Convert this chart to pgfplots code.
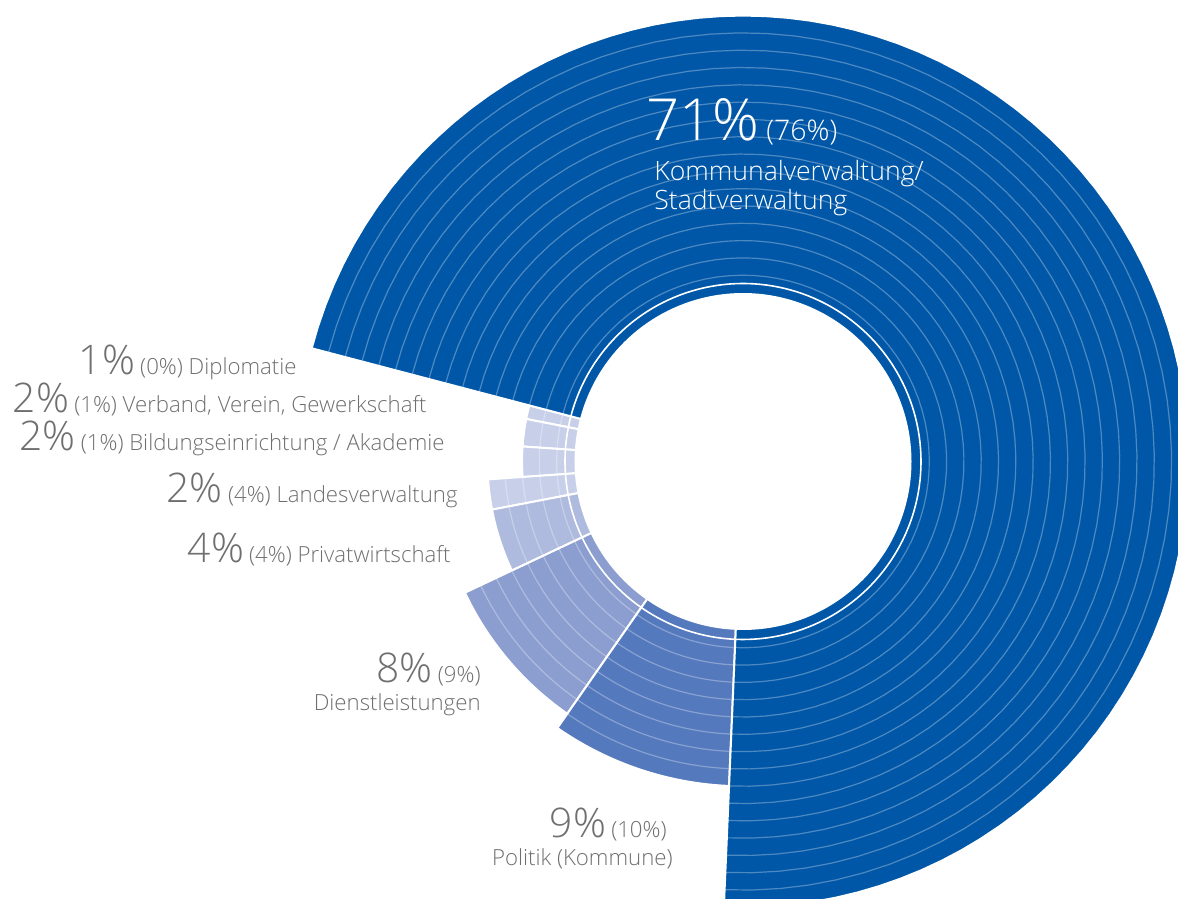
\documentclass[border=0pt]{standalone}
\usepackage{pgfplots}
\usepackage{pgfplotstable}
\pgfplotsset{compat=1.18}
\usepackage{fontspec}
\setmainfont{Open Sans}[UprightFont={* Light}]

\definecolor{kom}{HTML}{0057A7}
\definecolor{pol}{HTML}{5479BD}
\definecolor{die}{HTML}{8C9ED0}
\definecolor{pri}{HTML}{AFBBDE}
\definecolor{lig}{HTML}{C8CFE9}
\definecolor{txt}{HTML}{6F6F6F}

% share in percent, number of rings, colour
% listed counter-clockwise, starting at the upper left edge
\pgfplotstableread{
label              share rings col
Diplomatie         1.0   2     lig
Verband            2.0   2     lig
Bildung            2.2   2     lig
Landesverwaltung   1.9   4     lig
Privatwirtschaft   4.0   4     pri
Dienstleistungen   8.3   7     die
Politik            9.0   8     pol
Kommunalverwaltung 71.6  15    kom
}\segs

\newcommand\bignum[1]{{\fontsize{20.4}{22}\selectfont #1}}
\newcommand\smalltxt[1]{{\fontsize{11.1}{13}\selectfont #1}}

\begin{document}
\begin{tikzpicture}[every node/.append style={inner sep=0pt}]
\begin{axis}[
    x=0.5pt, y=0.5pt,
    xmin=-743, xmax=435, ymin=-437.5, ymax=461.5,
    hide axis, clip=true,
    anchor=south west, at={(0,0)},
]
\gdef\acc{165.3}
\pgfplotsinvokeforeach{0,...,7}{
    \pgfplotstablegetelem{#1}{share}\of\segs \let\segS\pgfplotsretval
    \pgfplotstablegetelem{#1}{rings}\of\segs \let\segN\pgfplotsretval
    \pgfplotstablegetelem{#1}{col}\of\segs \let\segC\pgfplotsretval
    \pgfmathsetmacro\segA{\acc}
    \pgfmathsetmacro\segB{\acc+3.6*\segS}
    \pgfmathsetmacro\segR{186.3+17.31*\segN}
    \edef\doit{\noexpand\addplot[fill=\segC, draw=white, line width=1pt,
        domain=\segA:\segB, samples=90]
        ({\segR*cos(x)},{\segR*sin(x)}) -- (axis cs:0,0) -- cycle;}
    \doit
    \pgfplotsforeachungrouped \j in {1,...,\segN}{
        \pgfmathsetmacro\rj{186.3+17.31*(\j-1)}
        \edef\doit{\noexpand\addplot[white, opacity=0.3, line width=0.6pt,
            domain=\segA:\segB, samples=70] ({\rj*cos(x)},{\rj*sin(x)});}
        \doit
    }
    \xdef\acc{\segB}
}
% white line and hole in the middle
\addplot[white, line width=0.8pt, domain=0:360, samples=180] ({178*cos(x)},{178*sin(x)});
\addplot[fill=white, draw=none, domain=0:360, samples=180] ({168.5*cos(x)},{168.5*sin(x)}) -- cycle;

% labels
\node[anchor=base west, text=white] at (axis cs:-97,320.8)
    {{\fontsize{29}{31}\selectfont 71\%}\hspace{3.5pt}{\fontsize{14.2}{16}\selectfont (76\%)}};
\node[anchor=base west, text=white] at (axis cs:-89,280.8)
    {\fontsize{13.3}{15}\selectfont Kommunalverwaltung/};
\node[anchor=base west, text=white] at (axis cs:-89,251.5)
    {\fontsize{13.3}{15}\selectfont Stadtverwaltung};

\node[anchor=base east, text=txt] at (axis cs:-446,86.5)
    {\bignum{1\%} \smalltxt{(0\%) Diplomatie}};
\node[anchor=base east, text=txt] at (axis cs:-316,48.8)
    {\bignum{2\%} \smalltxt{(1\%) Verband, Verein, Gewerkschaft}};
\node[anchor=base east, text=txt] at (axis cs:-298,10.5)
    {\bignum{2\%} \smalltxt{(1\%) Bildungseinrichtung / Akademie}};
\node[anchor=base east, text=txt] at (axis cs:-285,-41.5)
    {\bignum{2\%} \smalltxt{(4\%) Landesverwaltung}};
\node[anchor=base east, text=txt] at (axis cs:-292,-101.5)
    {\bignum{4\%} \smalltxt{(4\%) Privatwirtschaft}};
\node[anchor=base east, text=txt] at (axis cs:-262,-221.5)
    {\bignum{8\%} \smalltxt{(9\%)}};
\node[anchor=base east, text=txt] at (axis cs:-262,-249.5)
    {\smalltxt{Dienstleistungen}};
\node[anchor=base east, text=txt] at (axis cs:-76,-376.5)
    {\bignum{9\%} \smalltxt{(10\%)}};
\node[anchor=base east, text=txt] at (axis cs:-70,-404.5)
    {\smalltxt{Politik (Kommune)}};
\end{axis}
\pgfresetboundingbox
\path (current axis.south west) rectangle (current axis.north east);
\end{tikzpicture}
\end{document}
